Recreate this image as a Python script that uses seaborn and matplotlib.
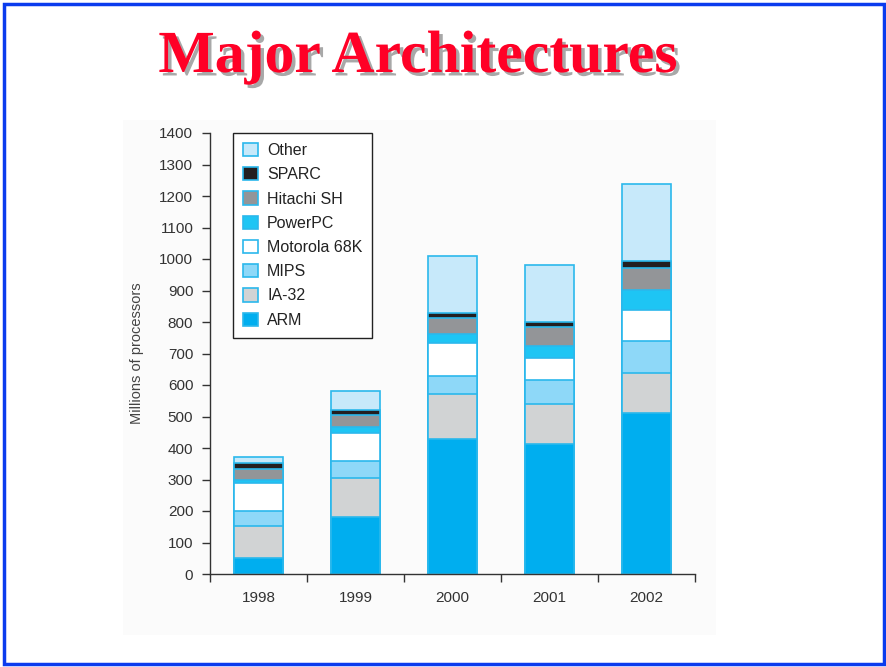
import pandas as pd
import matplotlib.pyplot as plt
import matplotlib.patheffects as pe
from matplotlib.patches import Patch, Rectangle
import seaborn as sns

# millions of processors shipped
years = ["1998", "1999", "2000", "2001", "2002"]
arm = [50, 180, 430, 412, 510]
ia32 = [102, 125, 140, 128, 128]
mips = [48, 55, 60, 75, 102]
motorola = [88, 88, 103, 70, 98]
powerpc = [10, 19, 30, 38, 64]
hitachi = [35, 37, 50, 60, 70]
sparc = [18, 17, 17, 17, 22]
other = [22, 61, 180, 182, 243]

archs = ["ARM", "IA-32", "MIPS", "Motorola 68K", "PowerPC", "Hitachi SH", "SPARC", "Other"]
colors = ["#00AEEF", "#D1D3D4", "#8ED8F8", "#FFFFFF", "#1EC5F4", "#939598", "#231F20", "#C7E9FA"]
edge = "#2BB8EC"

df = pd.DataFrame({"ARM": arm, "IA-32": ia32, "MIPS": mips, "Motorola 68K": motorola,
                   "PowerPC": powerpc, "Hitachi SH": hitachi, "SPARC": sparc, "Other": other},
                  index=years)
cum = df.cumsum(axis=1)

sns.set_theme(style="ticks")
plt.rcParams["font.family"] = ["Liberation Sans", "DejaVu Sans"]

fig = plt.figure(figsize=(8.86, 6.67), dpi=100)
fig.patch.set_facecolor("white")

# faint panel behind the chart and the slide border
fig.patches.append(Rectangle((123 / 886, 1 - 635 / 667), (716 - 123) / 886, (635 - 120) / 667,
                             transform=fig.transFigure, facecolor="#FBFBFB", edgecolor="none", zorder=-1))
fig.patches.append(Rectangle((4 / 886, 3 / 667), 880 / 886, 660 / 667, transform=fig.transFigure,
                             facecolor="none", edgecolor="#0A3BEE", linewidth=2.5, zorder=5))

ax = fig.add_axes([210 / 886, 1 - 574 / 667, 485 / 886, 441 / 667])
ax.set_facecolor("none")
ax.set_zorder(1)

# stacked bars: draw cumulative totals from the top layer down
for name, col in zip(archs[::-1], colors[::-1]):
    sns.barplot(x=years, y=cum[name].values, color=col, saturation=1, width=0.5,
                edgecolor=edge, linewidth=1.2, ax=ax)

ax.set_xlim(-0.5, 4.5)
ax.set_ylim(0, 1400)
ax.set_yticks(range(0, 1401, 100))
ax.set_xticks([-0.5, 0.5, 1.5, 2.5, 3.5, 4.5], minor=True)
ax.tick_params(axis="x", which="major", length=0, pad=12, labelsize=11, labelcolor="#333333")
ax.tick_params(axis="x", which="minor", length=6, width=1, color="#333333", direction="out")
ax.tick_params(axis="y", length=6, width=1, color="#333333", pad=6, labelsize=11, labelcolor="#333333")
sns.despine(ax=ax)
for s in ["left", "bottom"]:
    ax.spines[s].set_color("#333333")
    ax.spines[s].set_linewidth(1)
ax.set_ylabel("Millions of processors", fontsize=10.5, color="#444444", labelpad=11)

handles = [Patch(facecolor=c, edgecolor=edge, linewidth=1.2, label=a)
           for a, c in zip(archs[::-1], colors[::-1])]
leg = ax.legend(handles=handles, loc="upper left", bbox_to_anchor=(0.048, 1.0), fontsize=11.5,
                frameon=True, fancybox=False, edgecolor="#222222", framealpha=1,
                handlelength=0.9, handleheight=0.9, handletextpad=0.6, labelspacing=0.57,
                borderpad=0.62, borderaxespad=0)
leg.get_frame().set_linewidth(1)
for t in leg.get_texts():
    t.set_color("#222222")

fig.text(418 / 886, 1 - 72 / 667, "Major Architectures", ha="center", va="baseline",
         fontsize=43, fontweight="bold", family="Liberation Serif", color="#FF0026",
         path_effects=[pe.withSimplePatchShadow(offset=(2.5, -2.5), shadow_rgbFace="#A8A8A8", alpha=1)])

fig.savefig("out.png", dpi=100)
